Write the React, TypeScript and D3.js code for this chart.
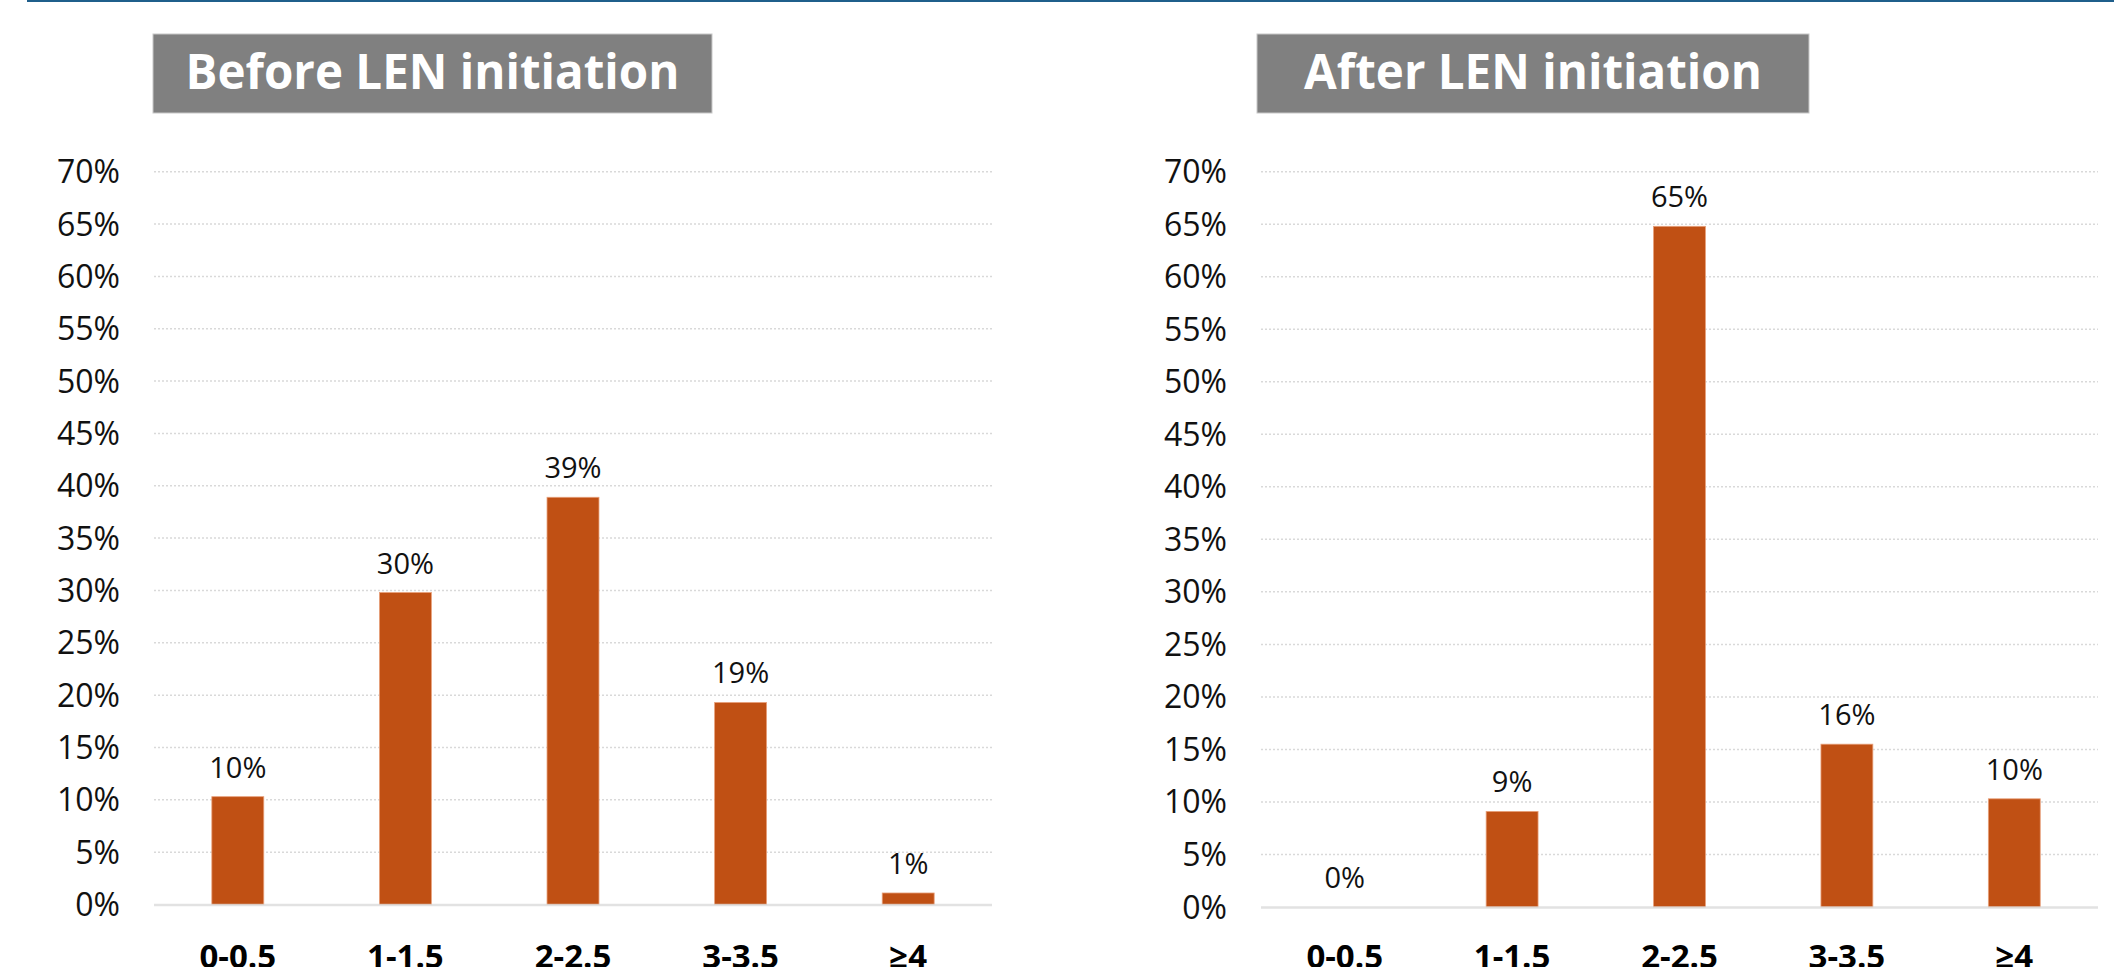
import React from "react";
import * as d3 from "d3";

const categories = ["0-0.5", "1-1.5", "2-2.5", "3-3.5", "≥4"];
const beforeValues = [10.3, 29.8, 38.9, 19.3, 1.1];
const afterValues = [0, 9.1, 64.8, 15.5, 10.3];
const beforeLabels = ["10%", "30%", "39%", "19%", "1%"];
const afterLabels = ["0%", "9%", "65%", "16%", "10%"];
const yTicks = [0, 5, 10, 15, 20, 25, 30, 35, 40, 45, 50, 55, 60, 65, 70];
const titles = ["Before LEN initiation", "After LEN initiation"];

const W = 2114;
const H = 967;
const BAR = "#C05014";
const FONT = "'Open Sans', 'DejaVu Sans', sans-serif";

type PanelProps = {
  title: string;
  values: number[];
  labels: string[];
  x0: number;
  x1: number;
  yTop: number;
  yBottom: number;
  boxX0: number;
  boxX1: number;
  tickRight: number;
};

function Panel(p: PanelProps) {
  const x = d3
    .scaleBand<string>()
    .domain(categories)
    .range([p.x0, p.x1])
    .paddingInner(0.69)
    .paddingOuter(0.345);
  const y = d3.scaleLinear().domain([0, 70]).range([p.yBottom, p.yTop]);
  const boxY0 = 34;
  const boxY1 = 113;
  return (
    <g>
      <rect
        x={p.boxX0}
        y={boxY0}
        width={p.boxX1 - p.boxX0}
        height={boxY1 - boxY0}
        fill="#808080"
        stroke="#c8c8c8"
        strokeWidth={1}
      />
      <text
        x={(p.boxX0 + p.boxX1) / 2}
        y={89}
        textAnchor="middle"
        fill="#ffffff"
        fontFamily={FONT}
        fontWeight={700}
        fontSize={47.5}
      >
        {p.title}
      </text>
      {yTicks.map((t) => (
        <g key={t}>
          {t > 0 && (
            <line
              x1={p.x0}
              x2={p.x1}
              y1={y(t)}
              y2={y(t)}
              stroke="#d9d9d9"
              strokeWidth={1.5}
              strokeDasharray="2,2"
            />
          )}
          <text
            x={p.tickRight}
            y={y(t)}
            dy="0.36em"
            textAnchor="end"
            fill="#111"
            fontFamily={FONT}
            fontSize={32}
          >
            {t + "%"}
          </text>
        </g>
      ))}
      {p.values.map((v, i) => {
        const c = categories[i];
        const bx = x(c)!;
        return (
          <g key={c}>
            {v > 0 && (
              <rect
                x={bx}
                y={y(v)}
                width={x.bandwidth()}
                height={y(0) - y(v)}
                fill={BAR}
                stroke="#e8a07a"
                strokeWidth={0.8}
              />
            )}
            <text
              x={bx + x.bandwidth() / 2}
              y={y(v) - 19}
              textAnchor="middle"
              fill="#111"
              fontFamily={FONT}
              fontSize={29}
            >
              {p.labels[i]}
            </text>
            <text
              x={bx + x.bandwidth() / 2}
              y={968}
              textAnchor="middle"
              fill="#000"
              fontFamily={FONT}
              fontWeight={700}
              fontSize={33}
            >
              {c}
            </text>
          </g>
        );
      })}
      <line
        x1={p.x0}
        x2={p.x1}
        y1={y(0) + 0.5}
        y2={y(0) + 0.5}
        stroke="#d9d9d9"
        strokeWidth={2.5}
        opacity={0.75}
      />
    </g>
  );
}

export default function App() {
  return (
    <svg
      width={W}
      height={H}
      style={{ position: "absolute", left: 0, top: 0, background: "#fff" }}
    >
      <rect x={0} y={0} width={W} height={H} fill="#ffffff" />
      <line x1={27} x2={W} y1={1} y2={1} stroke="#1f5f8b" strokeWidth={2} />
      <Panel
        title={titles[0]}
        values={beforeValues}
        labels={beforeLabels}
        x0={154}
        x1={992}
        yTop={171.7}
        yBottom={904.5}
        boxX0={153}
        boxX1={712}
        tickRight={120}
      />
      <Panel
        title={titles[1]}
        values={afterValues}
        labels={afterLabels}
        x0={1261}
        x1={2098}
        yTop={171.7}
        yBottom={907}
        boxX0={1257}
        boxX1={1809}
        tickRight={1227}
      />
    </svg>
  );
}
